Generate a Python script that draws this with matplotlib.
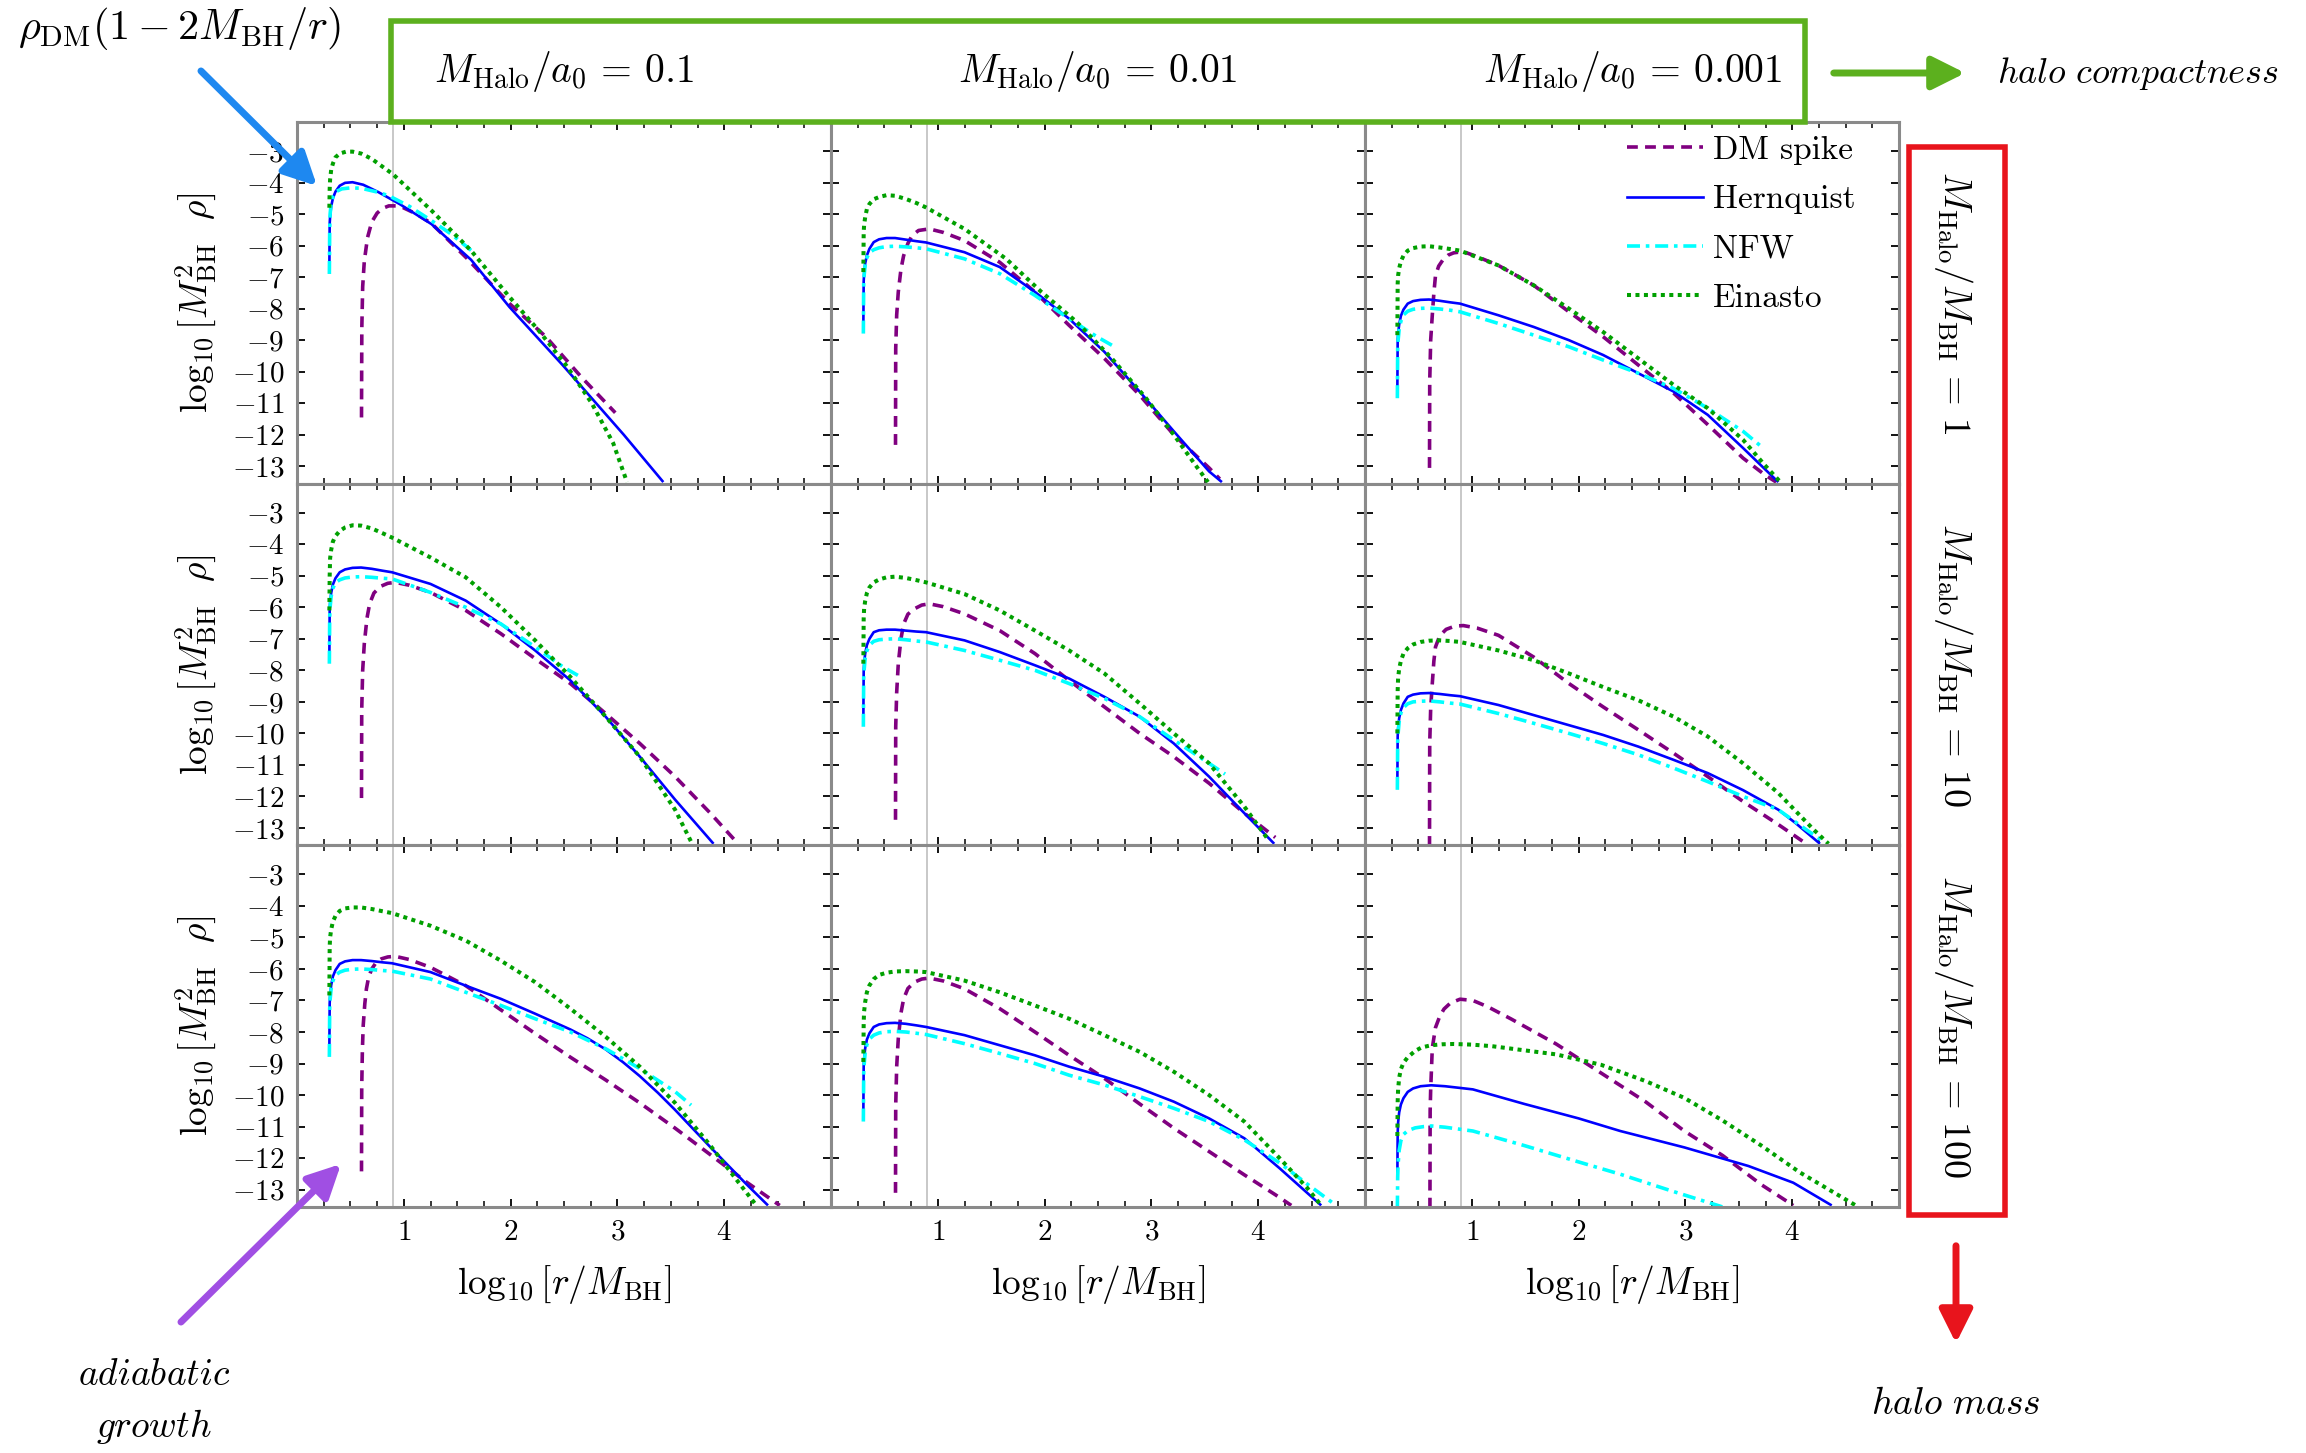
import matplotlib
matplotlib.use("Agg")
import matplotlib.pyplot as plt
from matplotlib.patches import Rectangle, FancyArrowPatch
from matplotlib.lines import Line2D
from matplotlib.ticker import FixedLocator

plt.rcParams["font.family"] = "serif"
plt.rcParams["font.serif"] = ["cmr10", "DejaVu Serif"]
plt.rcParams["mathtext.fontset"] = "cm"
plt.rcParams["axes.formatter.use_mathtext"] = True

# ---- values: x = log10[r/M_BH], y = log10[M_BH^2 rho] ----
# knee grid shared by the Hernquist / NFW / Einasto curves near the horizon
knee_x = [0.303, 0.306, 0.31, 0.32, 0.336, 0.36, 0.40, 0.45, 0.52, 0.60, 0.70, 0.80, 0.89]

# row 1 : M_Halo/M_BH = 1
spike_r1c1_x = [0.604, 0.607, 0.615, 0.63, 0.66, 0.70, 0.75, 0.80, 0.86, 0.93, 0.99, 1.12, 1.26, 1.59, 1.99, 2.33, 2.66, 2.98]
spike_r1c1_y = [-11.45, -8.6, -7.3, -6.5, -5.75, -5.25, -4.97, -4.82, -4.74, -4.74, -4.79, -5.0, -5.3, -6.4, -7.84, -8.89, -10.16, -11.3]
hern_r1c1_x = [0.303, 0.306, 0.31, 0.32, 0.336, 0.36, 0.40, 0.45, 0.52, 0.62, 0.76, 0.96, 1.26, 1.63, 1.99, 2.49, 3.06, 3.43]
hern_r1c1_y = [-6.68, -5.3, -5.08, -4.76, -4.5, -4.29, -4.1, -4.01, -3.99, -4.07, -4.3, -4.68, -5.32, -6.45, -7.95, -9.8, -12.0, -13.5]
nfw_r1c1_x = [0.303, 0.306, 0.31, 0.32, 0.34, 0.37, 0.42, 0.50, 0.60, 0.75, 0.86, 1.05, 1.26, 1.45, 1.63]
nfw_r1c1_y = [-6.9, -5.5, -5.0, -4.65, -4.42, -4.28, -4.2, -4.17, -4.18, -4.3, -4.42, -4.75, -5.21, -5.65, -6.15]
ein_r1c1_x = [0.303, 0.306, 0.31, 0.32, 0.336, 0.36, 0.40, 0.46, 0.52, 0.60, 0.70, 0.90, 1.26, 1.63, 1.99, 2.26, 2.53, 2.76, 2.96, 3.09]
ein_r1c1_y = [-4.8, -4.2, -3.9, -3.6, -3.4, -3.2, -3.08, -3.02, -3.02, -3.08, -3.25, -3.74, -4.89, -6.16, -7.63, -8.68, -9.84, -11.0, -12.26, -13.5]

spike_r1c2_x = [0.604, 0.606, 0.615, 0.63, 0.655, 0.68, 0.72, 0.76, 0.82, 0.92, 1.05, 1.25, 1.58, 1.91, 2.23, 2.56, 2.89, 3.21, 3.54, 3.64]
spike_r1c2_y = [-12.32, -9.26, -8.2, -7.47, -6.75, -6.32, -5.93, -5.68, -5.52, -5.47, -5.58, -5.84, -6.53, -7.47, -8.53, -9.58, -10.74, -12.0, -13.05, -13.4]
hern_r1c2_x = knee_x + [1.25, 1.58, 1.91, 2.23, 2.56, 2.89, 3.21, 3.54, 3.66]
hern_r1c2_y = [-8.53, -7.14, -6.89, -6.57, -6.31, -6.1, -5.89, -5.8, -5.76, -5.76, -5.81, -5.86, -5.9,
               -6.21, -6.68, -7.47, -8.32, -9.37, -10.63, -11.89, -13.16, -13.5]
nfw_r1c2_x = knee_x + [1.25, 1.58, 1.91, 2.23, 2.49, 2.63]
nfw_r1c2_y = [-8.79, -7.2, -6.95, -6.62, -6.38, -6.22, -6.13, -6.07, -6.03, -6.02, -6.04, -6.07, -6.1,
              -6.42, -6.89, -7.58, -8.32, -8.89, -9.16]
ein_r1c2_x = knee_x + [1.25, 1.64, 1.97, 2.30, 2.63, 2.95, 3.21, 3.41, 3.53]
ein_r1c2_y = [-6.84, -5.58, -5.35, -5.1, -4.84, -4.68, -4.53, -4.46, -4.4, -4.42, -4.52, -4.65, -4.79,
              -5.47, -6.42, -7.47, -8.42, -9.58, -10.84, -12.0, -12.95, -13.5]

spike_r1c3_x = [0.604, 0.606, 0.615, 0.63, 0.645, 0.66, 0.69, 0.73, 0.78, 0.83, 0.92, 1.05, 1.25, 1.58, 1.91, 2.23, 2.56, 2.89, 3.21, 3.54, 3.74, 3.85]
spike_r1c3_y = [-13.05, -10.32, -9.0, -8.21, -7.5, -6.95, -6.65, -6.45, -6.3, -6.23, -6.19, -6.35, -6.63, -7.26, -8.1, -8.89, -9.79, -10.68, -11.68, -12.74, -13.26, -13.5]
hern_r1c3_x = knee_x + [1.25, 1.58, 1.91, 2.23, 2.56, 2.89, 3.21, 3.54, 3.87]
hern_r1c3_y = [-10.53, -9.0, -8.8, -8.5, -8.23, -8.03, -7.84, -7.76, -7.72, -7.71, -7.75, -7.8, -7.84,
               -8.21, -8.58, -9.0, -9.47, -10.05, -10.63, -11.37, -12.42, -13.5]
nfw_r1c3_x = knee_x + [1.25, 1.58, 1.91, 2.23, 2.56, 2.89, 3.21, 3.54, 3.71]
nfw_r1c3_y = [-10.84, -9.25, -9.0, -8.65, -8.4, -8.2, -8.08, -8.02, -7.99, -7.98, -8.01, -8.05, -8.1,
              -8.47, -8.84, -9.21, -9.63, -10.05, -10.53, -11.16, -11.89, -12.37]
ein_r1c3_x = knee_x + [1.25, 1.58, 1.91, 2.23, 2.56, 2.89, 3.21, 3.54, 3.74, 3.89]
ein_r1c3_y = [-8.84, -7.2, -6.95, -6.72, -6.5, -6.32, -6.16, -6.08, -6.03, -6.02, -6.06, -6.11, -6.16,
              -6.63, -7.26, -8.0, -8.74, -9.58, -10.42, -11.16, -12.16, -12.95, -13.5]

# row 2 : M_Halo/M_BH = 10
spike_r2c1_x = [0.604, 0.606, 0.615, 0.63, 0.655, 0.68, 0.72, 0.78, 0.85, 0.92, 1.05, 1.25, 1.58, 1.91, 2.23, 2.56, 2.89, 3.21, 3.54, 3.87, 4.13]
spike_r2c1_y = [-12.05, -9.26, -8.0, -7.16, -6.35, -5.89, -5.55, -5.34, -5.24, -5.21, -5.3, -5.53, -6.1, -6.84, -7.63, -8.42, -9.37, -10.32, -11.37, -12.53, -13.5]
hern_r2c1_x = knee_x + [1.25, 1.58, 1.91, 2.23, 2.56, 2.89, 3.21, 3.54, 3.90]
hern_r2c1_y = [-7.53, -6.1, -5.85, -5.55, -5.28, -5.08, -4.89, -4.8, -4.75, -4.74, -4.78, -4.84, -4.89,
               -5.26, -5.79, -6.53, -7.37, -8.32, -9.47, -10.74, -12.1, -13.5]
nfw_r2c1_x = knee_x + [1.25, 1.58, 1.91, 2.23, 2.49, 2.63]
nfw_r2c1_y = [-7.79, -6.3, -6.0, -5.65, -5.4, -5.22, -5.13, -5.07, -5.04, -5.03, -5.05, -5.08, -5.1,
              -5.53, -6.0, -6.53, -7.26, -7.89, -8.16]
ein_r2c1_x = knee_x + [1.25, 1.58, 1.91, 2.23, 2.56, 2.89, 3.21, 3.54, 3.70]
ein_r2c1_y = [-6.1, -5.0, -4.45, -4.18, -3.92, -3.74, -3.58, -3.47, -3.4, -3.41, -3.5, -3.65, -3.79,
              -4.42, -5.05, -6.0, -7.05, -8.21, -9.47, -10.74, -12.42, -13.5]

spike_r2c2_x = [0.604, 0.606, 0.615, 0.63, 0.655, 0.68, 0.72, 0.78, 0.85, 0.92, 1.05, 1.25, 1.58, 1.91, 2.23, 2.56, 2.89, 3.21, 3.54, 3.87, 4.16]
spike_r2c2_y = [-12.74, -9.79, -8.7, -7.79, -7.0, -6.53, -6.22, -6.05, -5.93, -5.89, -5.98, -6.21, -6.74, -7.47, -8.32, -9.16, -10.0, -10.74, -11.58, -12.53, -13.3]
hern_r2c2_x = knee_x + [1.25, 1.58, 1.91, 2.23, 2.56, 2.89, 3.21, 3.54, 3.87, 4.15]
hern_r2c2_y = [-9.53, -8.04, -7.79, -7.47, -7.2, -7.0, -6.79, -6.73, -6.71, -6.71, -6.74, -6.77, -6.79,
               -7.05, -7.42, -7.84, -8.26, -8.84, -9.47, -10.32, -11.37, -12.53, -13.5]
nfw_r2c2_x = knee_x + [1.25, 1.58, 1.91, 2.23, 2.56, 2.89, 3.21, 3.54, 3.69]
nfw_r2c2_y = [-9.79, -8.25, -8.0, -7.62, -7.38, -7.2, -7.08, -7.03, -7.01, -7.0, -7.03, -7.07, -7.1,
              -7.37, -7.68, -8.0, -8.42, -8.89, -9.47, -10.21, -10.95, -11.29]
ein_r2c2_x = knee_x + [1.25, 1.58, 1.91, 2.23, 2.56, 2.89, 3.21, 3.54, 3.87, 4.10]
ein_r2c2_y = [-7.79, -6.35, -6.05, -5.8, -5.55, -5.37, -5.21, -5.12, -5.05, -5.03, -5.07, -5.14, -5.21,
              -5.58, -6.1, -6.74, -7.37, -8.1, -9.05, -10.0, -10.95, -12.32, -13.4]

spike_r2c3_x = [0.604, 0.606, 0.615, 0.63, 0.645, 0.66, 0.70, 0.76, 0.84, 0.92, 1.05, 1.25, 1.58, 1.91, 2.23, 2.56, 2.89, 3.21, 3.54, 3.87, 4.11]
spike_r2c3_y = [-13.6, -10.32, -9.2, -8.42, -7.7, -7.26, -6.9, -6.7, -6.6, -6.58, -6.66, -6.89, -7.58, -8.42, -9.16, -9.89, -10.63, -11.37, -12.16, -12.89, -13.45]
hern_r2c3_x = knee_x + [1.25, 1.58, 1.91, 2.23, 2.56, 2.89, 3.21, 3.54, 3.87, 4.03, 4.26]
hern_r2c3_y = [-11.53, -10.09, -9.84, -9.52, -9.26, -9.05, -8.84, -8.77, -8.73, -8.72, -8.75, -8.79, -8.82,
               -9.1, -9.42, -9.74, -10.05, -10.42, -10.84, -11.26, -11.8, -12.42, -12.84, -13.5]
nfw_r2c3_x = knee_x + [1.25, 1.58, 1.91, 2.23, 2.56, 2.89, 3.21, 3.54, 3.87, 4.13, 4.29]
nfw_r2c3_y = [-11.79, -10.25, -10.0, -9.62, -9.35, -9.18, -9.06, -9.0, -8.98, -8.97, -9.0, -9.04, -9.07,
              -9.37, -9.68, -10.0, -10.32, -10.68, -11.1, -11.53, -12.0, -12.42, -13.05, -13.42]
ein_r2c3_x = knee_x + [1.25, 1.58, 1.91, 2.23, 2.56, 2.89, 3.21, 3.54, 3.87, 4.20, 4.34]
ein_r2c3_y = [-10.0, -8.63, -8.25, -7.95, -7.7, -7.47, -7.3, -7.18, -7.1, -7.06, -7.05, -7.07, -7.1,
              -7.37, -7.68, -8.1, -8.53, -8.95, -9.47, -10.1, -10.95, -11.89, -13.05, -13.5]

# row 3 : M_Halo/M_BH = 100
spike_r3c1_x = [0.604, 0.606, 0.612, 0.62, 0.635, 0.65, 0.67, 0.70, 0.74, 0.79, 0.85, 0.92, 1.05, 1.25, 1.58, 1.91, 2.23, 2.56, 2.89, 3.21, 3.54, 3.87, 4.20, 4.52]
spike_r3c1_y = [-12.42, -9.79, -8.6, -7.79, -7.1, -6.63, -6.27, -6.0, -5.8, -5.68, -5.62, -5.6, -5.7, -5.95, -6.53, -7.3, -8.05, -8.8, -9.52, -10.25, -11.05, -11.89, -12.74, -13.5]
hern_r3c1_x = knee_x + [1.25, 1.58, 1.91, 2.23, 2.56, 2.72, 2.89, 3.05, 3.21, 3.38, 3.54, 3.87, 4.20, 4.41]
hern_r3c1_y = [-8.53, -7.09, -6.84, -6.52, -6.24, -6.04, -5.84, -5.76, -5.72, -5.72, -5.75, -5.79, -5.82,
               -6.1, -6.53, -6.95, -7.42, -7.92, -8.2, -8.55, -8.95, -9.4, -9.93, -10.47, -11.65, -12.8, -13.5]
nfw_r3c1_x = knee_x + [1.25, 1.58, 1.91, 2.23, 2.56, 2.89, 3.21, 3.54, 3.69]
nfw_r3c1_y = [-8.79, -7.25, -6.97, -6.62, -6.38, -6.2, -6.1, -6.04, -6.01, -6.0, -6.02, -6.05, -6.07,
              -6.32, -6.74, -7.16, -7.58, -8.0, -8.53, -9.16, -9.89, -10.32]
ein_r3c1_x = knee_x + [1.25, 1.58, 1.91, 2.23, 2.56, 2.89, 3.21, 3.54, 3.87, 4.13, 4.29]
ein_r3c1_y = [-6.84, -5.3, -5.0, -4.75, -4.5, -4.32, -4.16, -4.08, -4.05, -4.05, -4.1, -4.17, -4.23,
              -4.63, -5.1, -5.74, -6.42, -7.26, -8.15, -9.1, -10.25, -11.6, -12.75, -13.45]

spike_r3c2_x = [0.604, 0.606, 0.615, 0.63, 0.655, 0.68, 0.72, 0.78, 0.85, 0.92, 1.05, 1.25, 1.58, 1.91, 2.23, 2.56, 2.89, 3.21, 3.54, 3.87, 4.16, 4.31]
spike_r3c2_y = [-13.1, -10.32, -9.1, -8.21, -7.4, -6.95, -6.62, -6.42, -6.32, -6.29, -6.38, -6.63, -7.26, -8.0, -8.74, -9.47, -10.28, -11.05, -11.79, -12.53, -13.16, -13.5]
hern_r3c2_x = knee_x + [1.25, 1.58, 1.91, 2.23, 2.56, 2.89, 3.21, 3.54, 3.87, 4.20, 4.59]
hern_r3c2_y = [-10.53, -9.09, -8.84, -8.52, -8.24, -8.04, -7.84, -7.76, -7.72, -7.71, -7.74, -7.79, -7.84,
               -8.1, -8.42, -8.74, -9.1, -9.42, -9.79, -10.21, -10.74, -11.37, -12.32, -13.5]
nfw_r3c2_x = knee_x + [1.25, 1.58, 1.91, 2.23, 2.56, 2.89, 3.21, 3.54, 3.87, 4.20, 4.45, 4.69]
nfw_r3c2_y = [-10.84, -9.3, -9.05, -8.65, -8.4, -8.22, -8.1, -8.03, -7.99, -7.98, -8.0, -8.04, -8.08,
              -8.37, -8.68, -9.0, -9.37, -9.68, -10.05, -10.42, -10.84, -11.42, -12.15, -12.8, -13.4]
ein_r3c2_x = knee_x + [1.25, 1.58, 1.91, 2.23, 2.56, 2.89, 3.21, 3.54, 3.87, 4.20, 4.46, 4.59]
ein_r3c2_y = [-8.95, -7.7, -7.35, -7.05, -6.74, -6.52, -6.32, -6.19, -6.12, -6.08, -6.07, -6.08, -6.1,
              -6.37, -6.74, -7.16, -7.58, -8.1, -8.63, -9.26, -10.0, -10.84, -12.0, -12.95, -13.5]

spike_r3c3_x = [0.608, 0.61, 0.615, 0.63, 0.66, 0.70, 0.74, 0.80, 0.89, 1.01, 1.15, 1.37, 1.79, 2.21, 2.63, 2.99, 3.35, 3.71, 4.01]
spike_r3c3_y = [-13.6, -10.5, -9.82, -8.51, -7.86, -7.5, -7.27, -7.08, -6.96, -7.0, -7.2, -7.59, -8.38, -9.3, -10.22, -11.14, -11.92, -12.84, -13.5]
hern_r3c3_x = [0.303, 0.306, 0.31, 0.32, 0.336, 0.36, 0.40, 0.45, 0.52, 0.62, 0.75, 0.88, 1.01, 1.49, 2.0, 2.39, 2.99, 3.59, 4.01, 4.37]
hern_r3c3_y = [-12.58, -11.2, -10.87, -10.55, -10.3, -10.1, -9.9, -9.79, -9.72, -9.69, -9.72, -9.77, -9.82, -10.28, -10.74, -11.14, -11.66, -12.25, -12.78, -13.5]
nfw_r3c3_x = [0.303, 0.306, 0.31, 0.32, 0.336, 0.36, 0.40, 0.47, 0.55, 0.62, 0.75, 0.88, 1.01, 1.49, 2.0, 2.39, 2.87, 3.35]
nfw_r3c3_y = [-13.6, -12.6, -12.19, -11.75, -11.45, -11.25, -11.13, -11.04, -11.0, -10.98, -11.02, -11.08, -11.14, -11.6, -12.12, -12.51, -13.04, -13.55]
ein_r3c3_x = [0.303, 0.306, 0.31, 0.32, 0.336, 0.36, 0.40, 0.47, 0.53, 0.62, 0.72, 0.83, 1.0, 1.19, 1.79, 2.21, 2.63, 2.99, 3.35, 3.71, 4.07, 4.43, 4.62]
ein_r3c3_y = [-11.3, -10.2, -9.82, -9.45, -9.18, -8.98, -8.8, -8.6, -8.49, -8.42, -8.39, -8.38, -8.4, -8.45, -8.71, -9.04, -9.56, -10.09, -10.81, -11.6, -12.45, -13.17, -13.55]

halo_compactness = ["0.1", "0.01", "0.001"]
halo_mass = ["1", "10", "100"]
profiles = ["DM spike", "Hernquist", "NFW", "Einasto"]
x_ticks = [1, 2, 3, 4]
y_ticks = list(range(-13, -2))

panels = [
    [[(spike_r1c1_x, spike_r1c1_y), (hern_r1c1_x, hern_r1c1_y), (nfw_r1c1_x, nfw_r1c1_y), (ein_r1c1_x, ein_r1c1_y)],
     [(spike_r1c2_x, spike_r1c2_y), (hern_r1c2_x, hern_r1c2_y), (nfw_r1c2_x, nfw_r1c2_y), (ein_r1c2_x, ein_r1c2_y)],
     [(spike_r1c3_x, spike_r1c3_y), (hern_r1c3_x, hern_r1c3_y), (nfw_r1c3_x, nfw_r1c3_y), (ein_r1c3_x, ein_r1c3_y)]],
    [[(spike_r2c1_x, spike_r2c1_y), (hern_r2c1_x, hern_r2c1_y), (nfw_r2c1_x, nfw_r2c1_y), (ein_r2c1_x, ein_r2c1_y)],
     [(spike_r2c2_x, spike_r2c2_y), (hern_r2c2_x, hern_r2c2_y), (nfw_r2c2_x, nfw_r2c2_y), (ein_r2c2_x, ein_r2c2_y)],
     [(spike_r2c3_x, spike_r2c3_y), (hern_r2c3_x, hern_r2c3_y), (nfw_r2c3_x, nfw_r2c3_y), (ein_r2c3_x, ein_r2c3_y)]],
    [[(spike_r3c1_x, spike_r3c1_y), (hern_r3c1_x, hern_r3c1_y), (nfw_r3c1_x, nfw_r3c1_y), (ein_r3c1_x, ein_r3c1_y)],
     [(spike_r3c2_x, spike_r3c2_y), (hern_r3c2_x, hern_r3c2_y), (nfw_r3c2_x, nfw_r3c2_y), (ein_r3c2_x, ein_r3c2_y)],
     [(spike_r3c3_x, spike_r3c3_y), (hern_r3c3_x, hern_r3c3_y), (nfw_r3c3_x, nfw_r3c3_y), (ein_r3c3_x, ein_r3c3_y)]],
]

styles = [
    dict(color="#800080", lw=2.6, dashes=(3.0, 2.0)),
    dict(color="#0000ff", lw=1.9),
    dict(color="#00ffff", lw=2.6, dashes=(3.6, 1.6, 1.0, 1.6)),
    dict(color="#00a000", lw=2.9, dashes=(1.0, 1.1)),
]

W, H = 2306, 1453
fig = plt.figure(figsize=(W / 100, H / 100), dpi=100)
gs = fig.add_gridspec(3, 3, left=297 / W, right=1899 / W, top=1 - 122 / H,
                      bottom=1 - 1207 / H, wspace=0, hspace=0)

minor = [i * 0.25 for i in range(1, 20) if i % 4]
for r in range(3):
    for c in range(3):
        ax = fig.add_subplot(gs[r, c])
        ax.axvline(0.9, color="#c8c8c8", lw=1.4, zorder=0)
        for (xs, ys), st in zip(panels[r][c], styles):
            ax.plot(xs, ys, solid_capstyle="butt", dash_capstyle="butt",
                    solid_joinstyle="round", dash_joinstyle="round", **st)
        ax.set_xlim(0, 5)
        ax.set_ylim(-13.55, -2.08)
        ax.set_xticks(x_ticks)
        ax.xaxis.set_minor_locator(FixedLocator(minor))
        ax.set_yticks(y_ticks)
        ax.tick_params(which="both", direction="in", top=True, right=True,
                       labelbottom=(r == 2), labelleft=(c == 0), labelsize=21)
        ax.tick_params(which="major", length=6, width=1.3, pad=9)
        ax.tick_params(which="minor", length=4, width=1.1)
        if r == 2:
            ax.set_xticklabels([f"${v}$" for v in x_ticks])
            ax.text(0.5, -0.215, r"$\log_{10}[r/M_{\mathrm{BH}}]$", transform=ax.transAxes,
                    ha="center", va="center", fontsize=27)
        if c == 0:
            ax.set_yticklabels([f"${v}$" for v in y_ticks])
            ax.text(-0.19, 0.5, r"$\log_{10}[M_{\mathrm{BH}}^2\ \ \rho]$", transform=ax.transAxes,
                    ha="center", va="center", rotation=90, fontsize=27)
        for sp in ax.spines.values():
            sp.set_color("#8a8a8a")
            sp.set_linewidth(2.2)
        if r == 0 and c == 2:
            handles = [Line2D([], [], **st) for st in styles]
            ax.legend(handles, profiles, loc="upper left", bbox_to_anchor=(0.49, 0.962),
                      frameon=False, fontsize=24, handlelength=2.3, handletextpad=0.3,
                      labelspacing=0.6, borderpad=0, borderaxespad=0)

# header box with halo compactness
fig.add_artist(Rectangle((391 / W, 1 - 122 / H), (1805 - 391) / W, (122 - 21) / H,
                         transform=fig.transFigure, fill=False, ec="#5cb01e", lw=4, zorder=5))
col_centres = [564, 1098, 1633]
for xc, val in zip(col_centres, halo_compactness):
    fig.text(xc / W, 1 - 72 / H, r"$M_{\mathrm{Halo}}/a_0\,=\,%s$" % val, ha="center",
             va="center", fontsize=28.5)

# side box with halo mass
fig.add_artist(Rectangle((1909 / W, 1 - 1215 / H), (2005 - 1909) / W, (1215 - 147) / H,
                         transform=fig.transFigure, fill=False, ec="#e8141c", lw=4, zorder=5))
row_centres = [303, 665, 1027]
for yc, val in zip(row_centres, halo_mass):
    fig.text(1953 / W, 1 - yc / H, r"$M_{\mathrm{Halo}}/M_{\mathrm{BH}}\,=\,%s$" % val,
             ha="center", va="center", rotation=-90, fontsize=27.5)


def arrow(p0, p1, color):
    a = FancyArrowPatch((p0[0] / W, 1 - p0[1] / H), (p1[0] / W, 1 - p1[1] / H),
                        transform=fig.transFigure, arrowstyle="-|>", mutation_scale=50,
                        lw=5, color=color, zorder=6, capstyle="round")
    fig.add_artist(a)


arrow((1831, 73), (1968, 73), "#5cb01e")
arrow((1956, 1243), (1956, 1346), "#e8141c")
arrow((199, 69), (319, 188), "#1e88f0")
arrow((179, 1324), (343, 1162), "#a04fe3")

fig.text(18 / W, 1 - 29 / H, r"$\rho_{\mathrm{DM}}(1-2M_{\mathrm{BH}}/r)$", ha="left",
         va="center", fontsize=30.5)
fig.text(1997 / W, 1 - 74 / H, r"$\mathit{halo\ compactness}$", ha="left", va="center", fontsize=26)
fig.text(1956 / W, 1 - 1404 / H, r"$\mathit{halo\ mass}$", ha="center", va="center", fontsize=27)
fig.text(154 / W, 1 - 1375 / H, r"$\mathit{adiabatic}$", ha="center", va="center", fontsize=27)
fig.text(154 / W, 1 - 1427 / H, r"$\mathit{growth}$", ha="center", va="center", fontsize=27)

fig.savefig("out.png", dpi=100, facecolor="white")
